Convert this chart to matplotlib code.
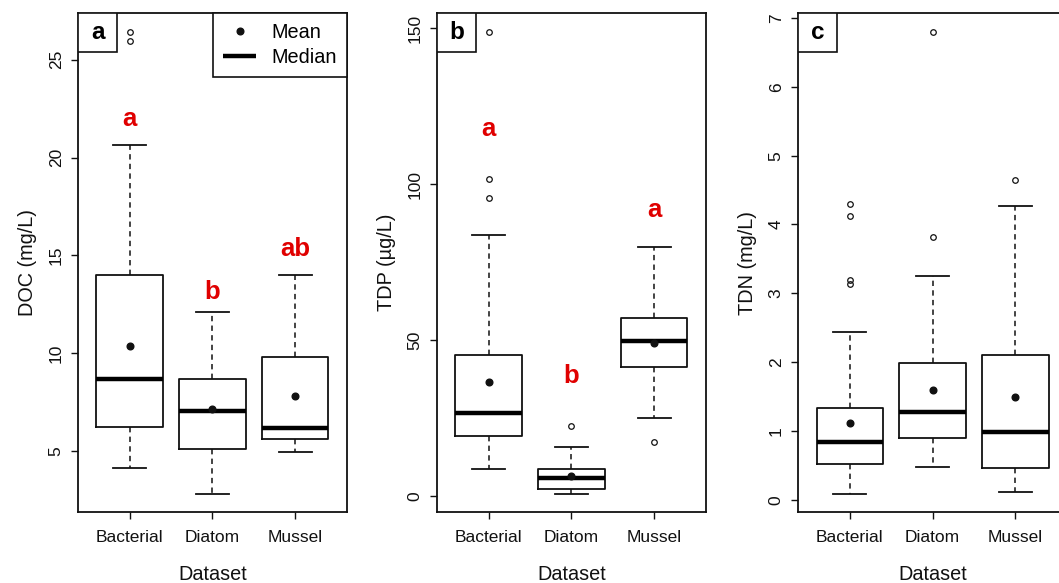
import matplotlib
matplotlib.use('Agg')
import matplotlib.pyplot as plt
from matplotlib.lines import Line2D
from matplotlib.patches import Rectangle

plt.rcParams['font.family'] = ['Liberation Sans', 'DejaVu Sans']

# Data
groups = ['Bacterial', 'Diatom', 'Mussel']

# DOC (mg/L)
doc_low = [4.10, 2.82, 4.95]
doc_q1 = [6.21, 5.12, 5.63]
doc_med = [8.66, 7.06, 6.16]
doc_q3 = [13.99, 8.66, 9.80]
doc_high = [20.65, 12.11, 13.99]
doc_mean = [10.36, 7.13, 7.82]
doc_out = [[26.43, 25.97], [], []]
doc_letters = ['a', 'b', 'ab']
doc_letter_y = [21.97, 13.13, 15.34]

# TDP (ug/L)
tdp_low = [8.8, 0.87, 25.0]
tdp_q1 = [19.3, 2.35, 41.5]
tdp_med = [26.6, 5.7, 49.6]
tdp_q3 = [45.1, 8.7, 57.2]
tdp_high = [83.6, 15.8, 80.0]
tdp_mean = [36.7, 6.4, 49.2]
tdp_out = [[148.8, 101.7, 95.6], [22.5], [17.3]]
tdp_letters = ['a', 'b', 'a']
tdp_letter_y = [117.8, 38.6, 91.6]

# TDN (mg/L)
tdn_low = [0.09, 0.48, 0.11]
tdn_q1 = [0.525, 0.89, 0.46]
tdn_med = [0.835, 1.27, 0.98]
tdn_q3 = [1.33, 1.99, 2.10]
tdn_high = [2.43, 3.25, 4.27]
tdn_mean = [1.11, 1.60, 1.49]
tdn_out = [[4.29, 4.13, 3.20, 3.13], [6.80, 3.82], [4.64]]

panels = [
    dict(tag='a', ylabel='DOC (mg/L)', ticks=[5, 10, 15, 20, 25],
         low=doc_low, q1=doc_q1, med=doc_med, q3=doc_q3, high=doc_high,
         mean=doc_mean, out=doc_out, letters=doc_letters, letter_y=doc_letter_y),
    dict(tag='b', ylabel='TDP (\u00b5g/L)', ticks=[0, 50, 100, 150],
         low=tdp_low, q1=tdp_q1, med=tdp_med, q3=tdp_q3, high=tdp_high,
         mean=tdp_mean, out=tdp_out, letters=tdp_letters, letter_y=tdp_letter_y),
    dict(tag='c', ylabel='TDN (mg/L)', ticks=[0, 1, 2, 3, 4, 5, 6, 7],
         low=tdn_low, q1=tdn_q1, med=tdn_med, q3=tdn_q3, high=tdn_high,
         mean=tdn_mean, out=tdn_out, letters=None, letter_y=None),
]

fig = plt.figure(figsize=(10.59, 5.83), dpi=100)
lefts = [0.0739, 0.4129, 0.7538]
ink = '#111111'

for p, left in zip(panels, lefts):
    ax = fig.add_axes([left, 0.1218, 0.2535, 0.8554])
    stats = []
    for i, g in enumerate(groups):
        stats.append(dict(label=g, whislo=p['low'][i], q1=p['q1'][i], med=p['med'][i],
                          q3=p['q3'][i], whishi=p['high'][i], mean=p['mean'][i],
                          fliers=p['out'][i]))
    ax.bxp(stats, positions=[1, 2, 3], widths=0.8, capwidths=0.4, showmeans=True,
           boxprops=dict(color=ink, lw=1.3),
           whiskerprops=dict(color=ink, lw=1.1, linestyle=(0, (3.5, 2.8))),
           capprops=dict(color=ink, lw=1.3),
           medianprops=dict(color='black', lw=3.2, solid_capstyle='butt'),
           meanprops=dict(marker='o', markerfacecolor=ink, markeredgecolor=ink, markersize=4.8),
           flierprops=dict(marker='o', markerfacecolor='none', markeredgecolor=ink,
                           markersize=4, markeredgewidth=0.9))

    # R-style limits: data range plus 4%
    vals = p['low'] + p['high'] + [v for o in p['out'] for v in o]
    lo, hi = min(vals), max(vals)
    pad = (hi - lo) * 0.04
    ax.set_ylim(lo - pad, hi + pad)
    ax.set_xlim(0.38, 3.62)
    ax.set_yticks(p['ticks'])
    ax.set_xticks([1, 2, 3], groups)
    ax.tick_params(length=5, width=1.0, colors=ink, labelsize=12.5)
    ax.tick_params(axis='x', pad=8)
    ax.tick_params(axis='y', pad=5.5)
    plt.setp(ax.get_yticklabels(), rotation=90, va='center')
    for s in ax.spines.values():
        s.set_linewidth(1.3)
        s.set_color(ink)

    ax.set_ylabel(p['ylabel'], fontsize=14.3, color=ink)
    ax.yaxis.set_label_coords(-0.152, 0.5)
    ax.set_xlabel('Dataset', fontsize=14.3, color=ink)
    ax.xaxis.set_label_coords(0.5, -0.106)

    # panel tag box
    ax.add_patch(Rectangle((0, 0.923), 0.146, 0.077, transform=ax.transAxes,
                           facecolor='white', edgecolor=ink, lw=1.2, zorder=5))
    ax.text(0.073, 0.962, p['tag'], transform=ax.transAxes, ha='center', va='center',
            fontsize=17.5, fontweight='bold', color='black', zorder=6)

    if p['letters']:
        for i, (t, y) in enumerate(zip(p['letters'], p['letter_y'])):
            ax.text(i + 1, y, t, ha='center', va='center', fontsize=18.5,
                    fontweight='bold', color='#e00000')

    if p['tag'] == 'a':
        handles = [Line2D([], [], marker='o', ls='none', color=ink, markersize=4.8),
                   Line2D([], [], color='black', lw=3.2, solid_capstyle='butt')]
        leg = ax.legend(handles, ['Mean', 'Median'], loc='upper right', fontsize=14.3,
                        frameon=True, fancybox=False, framealpha=1, edgecolor=ink,
                        borderaxespad=0, handlelength=1.67, handletextpad=0.75,
                        borderpad=0.5, labelspacing=0.3)
        leg.get_frame().set_linewidth(1.2)

fig.savefig('out.png', dpi=100)
